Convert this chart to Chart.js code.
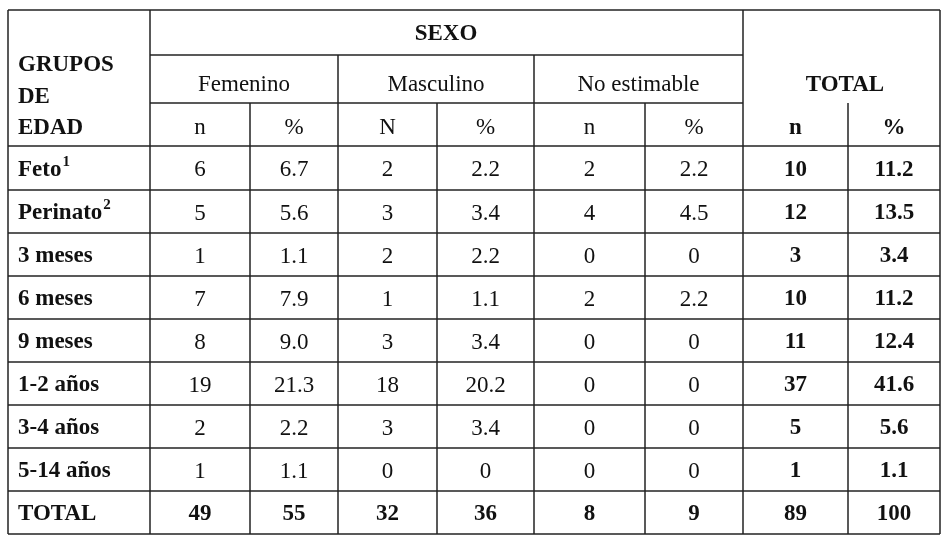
<!DOCTYPE html>
<html lang="es">
<head>
<meta charset="UTF-8" />
<title>Grupos de edad por sexo</title>
<script src="https://cdn.jsdelivr.net/npm/chart.js"></script>
<style>
  body { margin: 0; background: #fff; }
</style>
</head>
<body>
<canvas id="tabla" width="949" height="537"></canvas>
<script>
  const groups = ['Feto', 'Perinato', '3 meses', '6 meses', '9 meses', '1-2 años', '3-4 años', '5-14 años', 'TOTAL'];
  const groupSup = ['1', '2', '', '', '', '', '', '', ''];
  const femN   = ['6', '5', '1', '7', '8', '19', '2', '1', '49'];
  const femPct = ['6.7', '5.6', '1.1', '7.9', '9.0', '21.3', '2.2', '1.1', '55'];
  const masN   = ['2', '3', '2', '1', '3', '18', '3', '0', '32'];
  const masPct = ['2.2', '3.4', '2.2', '1.1', '3.4', '20.2', '3.4', '0', '36'];
  const neN    = ['2', '4', '0', '2', '0', '0', '0', '0', '8'];
  const nePct  = ['2.2', '4.5', '0', '2.2', '0', '0', '0', '0', '9'];
  const totN   = ['10', '12', '3', '10', '11', '37', '5', '1', '89'];
  const totPct = ['11.2', '13.5', '3.4', '11.2', '12.4', '41.6', '5.6', '1.1', '100'];
  const subHeads = ['n', '%', 'N', '%', 'n', '%', 'n', '%'];
  const sexHeads = ['Femenino', 'Masculino', 'No estimable'];

  // column and row edges, in scale units
  const colEdges = [8, 150, 250, 338, 437, 534, 645, 743, 848, 940];
  const rowEdges = [146, 190, 233, 276, 319, 362, 405, 448, 491, 534];

  const FONT = '"Liberation Serif", "DejaVu Serif", serif';

  const tablePlugin = {
    id: 'tablePlugin',
    afterDraw(chart) {
      const c = chart.ctx;
      const xs = chart.scales.x, ys = chart.scales.y;
      const X = v => xs.getPixelForValue(v);
      const Y = v => ys.getPixelForValue(v);
      c.save();
      c.strokeStyle = '#222';
      c.lineWidth = 1.5;
      const h = (y, x1, x2) => { c.beginPath(); c.moveTo(X(x1), Y(y)); c.lineTo(X(x2), Y(y)); c.stroke(); };
      const v = (x, y1, y2) => { c.beginPath(); c.moveTo(X(x), Y(y1)); c.lineTo(X(x), Y(y2)); c.stroke(); };
      h(10, 8, 940); h(55, 150, 743); h(103, 150, 743);
      rowEdges.forEach(y => h(y, 8, 940));
      v(8, 10, 534); v(150, 10, 534); v(743, 10, 534); v(940, 10, 534);
      v(338, 55, 534); v(534, 55, 534);
      [250, 437, 645, 848].forEach(x => v(x, 103, 534));

      c.fillStyle = '#111';
      c.textBaseline = 'middle';
      const txt = (s, x, y, bold, align) => {
        c.font = (bold ? 'bold ' : '') + '23px ' + FONT;
        c.textAlign = align || 'center';
        c.fillText(s, X(x), Y(y + 2));
      };
      txt('SEXO', 446, 32, true);
      sexHeads.forEach((s, i) => txt(s, (colEdges[1 + i * 2] + colEdges[3 + i * 2]) / 2, 83, false));
      txt('TOTAL', 845, 83, true);
      subHeads.forEach((s, i) => txt(s, (colEdges[i + 1] + colEdges[i + 2]) / 2, 126, i >= 6));
      txt('GRUPOS', 18, 63, true, 'left');
      txt('DE', 18, 95, true, 'left');
      txt('EDAD', 18, 126, true, 'left');

      const cols = [femN, femPct, masN, masPct, neN, nePct, totN, totPct];
      groups.forEach((g, r) => {
        const yc = (rowEdges[r] + rowEdges[r + 1]) / 2;
        const last = r === groups.length - 1;
        txt(g, 18, yc, true, 'left');
        if (groupSup[r]) {
          c.font = 'bold 23px ' + FONT;
          const w = c.measureText(g).width;
          c.font = 'bold 15px ' + FONT;
          c.textAlign = 'left';
          c.fillText(groupSup[r], X(18) + w + 1, Y(yc - 6));
        }
        cols.forEach((col, i) => {
          txt(col[r], (colEdges[i + 1] + colEdges[i + 2]) / 2, yc, last || i >= 6);
        });
      });
      c.restore();
    }
  };

  new Chart(document.getElementById('tabla'), {
    type: 'scatter',
    data: { datasets: [{ data: [] }] },
    options: {
      responsive: false,
      animation: false,
      layout: { padding: { left: 8, right: 9, top: 10, bottom: 3 } },
      scales: {
        x: { type: 'linear', min: 8, max: 940, display: false },
        y: { type: 'linear', min: 10, max: 534, reverse: true, display: false }
      },
      plugins: { legend: { display: false }, tooltip: { enabled: false } }
    },
    plugins: [tablePlugin]
  });
</script>
</body>
</html>
